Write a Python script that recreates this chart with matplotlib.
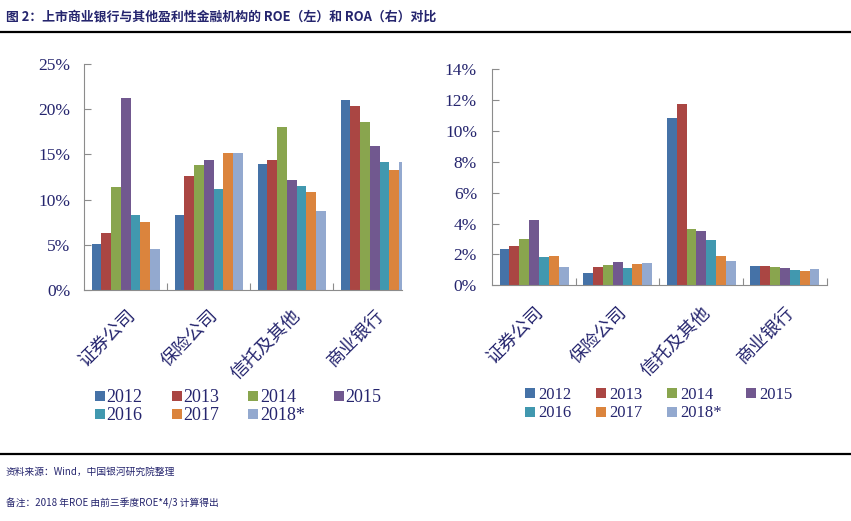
import matplotlib
matplotlib.use("Agg")
import matplotlib.pyplot as plt
import numpy as np
from matplotlib.lines import Line2D

# ---------------- data ----------------
categories = ["证券公司", "保险公司", "信托及其他", "商业银行"]
years = ["2012", "2013", "2014", "2015", "2016", "2017", "2018*"]

roe_2012 = [5.1, 8.3, 13.9, 21.0]
roe_2013 = [6.3, 12.6, 14.4, 20.35]
roe_2014 = [11.4, 13.8, 18.0, 18.6]
roe_2015 = [21.2, 14.4, 12.2, 15.9]
roe_2016 = [8.3, 11.2, 11.5, 14.2]
roe_2017 = [7.5, 15.15, 10.8, 13.3]
roe_2018 = [4.5, 15.15, 8.7, 14.2]

roa_2012 = [2.35, 0.80, 10.83, 1.25]
roa_2013 = [2.55, 1.19, 11.74, 1.25]
roa_2014 = [3.00, 1.32, 3.65, 1.19]
roa_2015 = [4.23, 1.51, 3.52, 1.12]
roa_2016 = [1.83, 1.12, 2.93, 0.99]
roa_2017 = [1.90, 1.38, 1.90, 0.93]
roa_2018 = [1.19, 1.45, 1.57, 1.06]

roe_series = [roe_2012, roe_2013, roe_2014, roe_2015, roe_2016, roe_2017, roe_2018]
roa_series = [roa_2012, roa_2013, roa_2014, roa_2015, roa_2016, roa_2017, roa_2018]

colors = ["#4572A7", "#AA4643", "#89A54E", "#71588F", "#4198AF", "#DB843D", "#93A9CF"]

title_text = "图 2：上市商业银行与其他盈利性金融机构的 ROE（左）和 ROA（右）对比"
note1 = "资料来源：Wind，中国银河研究院整理"
note2 = "备注：2018 年ROE 由前三季度ROE*4/3 计算得出"

# ---------------- style ----------------
navy = "#25256E"
spine_c = "#8C8C8C"
serif = ["Liberation Serif", "Noto Sans CJK SC"]
cjk = ["Noto Sans CJK SC", "DejaVu Sans"]

fig = plt.figure(figsize=(8.51, 5.21), dpi=100)
W, H = 851, 521

def fbox(x0, y0, x1, y1):
    return [x0 / W, 1 - y1 / H, (x1 - x0) / W, (y1 - y0) / H]

ax1 = fig.add_axes(fbox(84.3, 64, 402, 290))
ax2 = fig.add_axes(fbox(492.3, 69, 826.7, 285.3))

bw = 0.118
x = np.arange(len(categories))


def draw(ax, series, ymax, ystep, xmax, ypad, xpad):
    for i, (vals, c) in enumerate(zip(series, colors)):
        ax.bar(x + (i - 3) * bw, vals, width=bw, color=c, label=years[i],
               linewidth=0, zorder=2)
    ax.set_xlim(-0.5, xmax)
    ax.set_ylim(0, ymax)
    yt = np.arange(0, ymax + 0.001, ystep)
    ax.set_yticks(yt)
    ax.set_yticklabels([f"{int(round(v))}%" for v in yt], family=serif,
                       fontsize=12.5, color=navy)
    ax.set_xticks([0.5, 1.5, 2.5, 3.5] if xmax > 3.4 else [0.5, 1.5, 2.5])
    ax.set_xticklabels([])
    ax.set_xticks(x, minor=True)
    ax.set_xticklabels(categories, minor=True, rotation=45, ha="right",
                       rotation_mode="anchor", family=cjk, fontsize=13,
                       color=navy)
    ax.tick_params(axis="x", which="minor", length=0, pad=xpad)
    ax.tick_params(axis="x", which="major", direction="in", length=5,
                   color=spine_c)
    ax.tick_params(axis="y", direction="in", length=5, color=spine_c, pad=ypad)
    for s in ["top", "right"]:
        ax.spines[s].set_visible(False)
    for s in ["left", "bottom"]:
        ax.spines[s].set_color(spine_c)
        ax.spines[s].set_linewidth(0.8)


draw(ax1, roe_series, 25, 5, -0.5 + 317.7 / 83.0, 10, 12)
draw(ax2, roa_series, 14, 2, 3.5, 11, 13)

order = [0, 4, 1, 5, 2, 6, 3]


def add_legend(x0, y0, fs, hl, tp, colsp, ls):
    handles = [Line2D([], [], marker="s", linestyle="none", markersize=7,
                      markerfacecolor=c, markeredgewidth=0) for c in colors]
    leg = fig.legend([handles[k] for k in order], [years[k] for k in order],
                     ncol=4, loc="upper left",
                     bbox_to_anchor=(x0 / W, 1 - y0 / H), frameon=False,
                     prop={"family": serif, "size": fs}, handlelength=hl,
                     handletextpad=tp, columnspacing=colsp,
                     labelspacing=ls, borderpad=0, borderaxespad=0)
    for t in leg.get_texts():
        t.set_color(navy)


add_legend(95, 389, 13, 0.55, 0.1, 1.6, 0.05)
add_legend(525, 387, 12, 0.6, 0.2, 1.45, 0.14)

fig.text(6 / W, 1 - 17 / H, title_text, family=cjk, fontweight="bold",
         fontsize=9.3, color=navy, va="center", ha="left")
fig.add_artist(Line2D([0, 1], [1 - 32 / H, 1 - 32 / H], color="black",
                      linewidth=1.6))
fig.add_artist(Line2D([0, 1], [1 - 454 / H, 1 - 454 / H], color="black",
                      linewidth=1.6))
fig.text(6 / W, 1 - 472 / H, note1, family=cjk, style="italic",
         fontsize=7, color=navy, va="center", ha="left")
fig.text(6 / W, 1 - 503 / H, note2, family=cjk, style="italic",
         fontsize=7, color=navy, va="center", ha="left")

fig.savefig("out.png", dpi=100)
